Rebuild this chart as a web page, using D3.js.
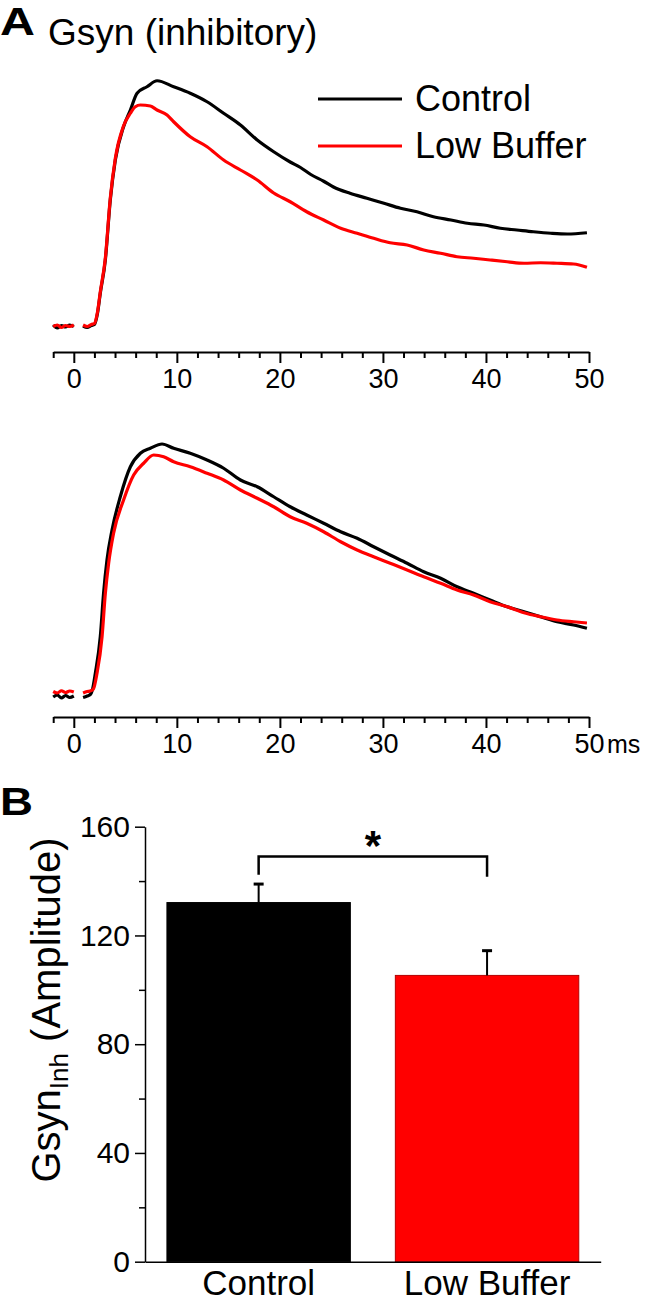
<!DOCTYPE html>
<html><head><meta charset="utf-8">
<script src="https://cdn.jsdelivr.net/npm/d3@7"></script>
<style>
html,body{margin:0;padding:0;background:#fff;}
svg{display:block;}
text{font-family:"Liberation Sans",Arial,Helvetica,sans-serif;fill:#000;}
</style>
</head><body>
<svg id="chart" width="647" height="1302"></svg>
<script>
// ---------------- DATA ----------------
const timeTickValues = [0, 10, 20, 30, 40, 50];
const timeMinorTicks = [-2, 2, 4, 6, 8, 12, 14, 16, 18, 22, 24, 26, 28, 32, 34, 36, 38, 42, 44, 46, 48];
const legendLabels = ["Control", "Low Buffer"];
const seriesColors = ["#000000", "#ff0000"];

// Panel A (top): [time ms, conductance, arbitrary units]; null = blanked artifact
const traceTopControl = [[-2.0,0.8],[-1.6,-0.4],[-1.2,0.6],[-0.8,0.0],[-0.4,0.8],[0.0,0.2],[0.4,null],
  [0.9,0.4],[1.3,-0.2],[1.7,0.6],[2.0,1.0],[2.3,5.5],[2.57,13.5],[3.06,26.8],[3.54,50.8],[4.03,66.8],
  [4.83,80.1],[5.49,86.8],[6.14,93.5],[7.1,96.1],[8.08,98.5],[9.69,96.1],[11.3,93.5],[12.93,90.1],
  [14.54,85.5],[16.17,80.8],[17.8,74.8],[19.4,70.1],[21.0,66.0],[22.0,63.8],[23.0,61.0],[24.25,58.3],
  [25.2,56.0],[26.8,53.5],[28.45,51.5],[30.1,49.5],[31.7,47.5],[33.3,46.1],[34.9,44.1],[36.6,42.8],
  [38.2,41.5],[39.8,40.8],[41.4,39.5],[43.0,38.8],[44.6,38.1],[46.3,37.5],[47.9,37.2],[49.8,37.7]];
const traceTopLowBuffer = [[-2.0,0.2],[-1.6,0.8],[-1.2,-0.2],[-0.8,0.6],[-0.4,0.2],[0.0,0.8],[0.4,null],
  [0.9,0.8],[1.3,0.2],[1.7,1.0],[2.0,1.4],[2.3,6.0],[2.57,14.0],[3.06,27.5],[3.54,51.5],[4.03,67.5],
  [4.83,80.5],[5.49,85.5],[5.97,88.1],[6.46,88.8],[7.43,88.4],[8.08,86.8],[9.05,84.8],[9.69,82.1],
  [11.3,76.1],[12.93,72.1],[14.54,66.8],[16.17,62.8],[17.8,58.8],[19.4,53.6],[21.0,50.1],[22.6,46.1],
  [24.25,42.8],[25.9,39.5],[27.5,37.5],[29.1,35.5],[30.7,33.7],[32.35,32.8],[33.96,30.8],[35.6,29.5],
  [37.2,28.1],[38.8,27.5],[40.4,26.8],[42.06,26.1],[43.7,25.5],[45.3,25.7],[46.9,25.5],[48.5,25.2],[49.8,23.9]];

// Panel A (bottom)
const traceBottomControl = [[-2.0,-1.6],[-1.6,-0.8],[-1.2,-2.0],[-0.8,-1.0],[-0.4,-1.8],[0.0,-1.2],[0.4,null],
  [0.9,-1.8],[1.3,-1.2],[1.6,-0.6],[1.8,1.2],[2.09,7.9],[2.57,22.5],[2.89,39.9],[3.22,53.2],[3.71,65.2],
  [4.51,78.5],[5.49,90.5],[6.46,95.9],[7.43,97.9],[8.56,99.6],[9.69,97.9],[11.3,95.9],[12.93,93.2],
  [14.54,89.9],[16.17,85.2],[17.8,82.5],[19.4,78.5],[21.0,74.5],[22.6,71.2],[24.25,67.9],[25.9,64.5],
  [27.5,61.9],[29.1,58.5],[30.7,55.2],[32.35,51.9],[33.96,48.5],[35.6,45.9],[37.2,42.5],[38.8,39.9],
  [40.4,37.2],[42.06,34.5],[43.7,32.5],[45.3,30.5],[46.9,28.5],[48.5,27.2],[49.8,25.9]];
const traceBottomLowBuffer = [[-2.0,0.6],[-1.6,0.0],[-1.2,0.9],[-0.8,0.2],[-0.4,0.8],[0.0,0.4],[0.4,null],
  [0.9,0.0],[1.3,0.6],[1.6,0.8],[1.9,1.6],[2.25,7.9],[2.74,22.5],[3.06,39.9],[3.38,51.9],[3.86,63.9],
  [4.83,77.2],[5.81,87.2],[6.78,91.9],[7.75,95.2],[8.72,94.5],[9.69,92.5],[11.3,90.5],[12.93,87.9],
  [14.54,85.2],[16.17,81.2],[17.8,77.9],[19.4,74.5],[21.0,70.5],[22.6,67.9],[24.25,64.5],[25.9,60.5],
  [27.5,57.2],[29.1,54.5],[30.7,51.9],[32.35,49.2],[33.96,46.5],[35.6,43.9],[37.2,41.2],[38.8,39.2],
  [40.4,36.5],[42.06,34.5],[43.7,32.1],[45.3,30.5],[46.9,29.2],[48.5,28.5],[49.8,28.0]];

// Panel B
const barCategories = ["Control", "Low Buffer"];
const barMeans = [132.1, 105.3];
const barErrors = [6.8, 9.1];
const barColors = ["#000000", "#ff0000"];
const ampTicks = [0, 40, 80, 120, 160];
const ampMinorTicks = [20, 60, 100, 140];
const bracketTop = 149;
const bracketLegs = [142.3, 141.6];
const sigLabel = "*";

// ---------------- DRAWING ----------------
const svg = d3.select("#chart");
const FONT = '"Liberation Sans",Arial,Helvetica,sans-serif';

// Titles
svg.append("text").attr("x", 0).attr("y", 35).attr("font-size", 38).attr("font-weight", "bold")
  .attr("textLength", 35).attr("lengthAdjust", "spacingAndGlyphs").text("A");
svg.append("text").attr("x", 48).attr("y", 45).attr("font-size", 37).text("Gsyn (inhibitory)");

const x = d3.scaleLinear().domain([-2, 50]).range([53.2, 589]);

function tracePanel(yBase, yTop, axisY, series, showMs) {
  const y = d3.scaleLinear().domain([0, 100]).range([yBase, yTop]);
  const line = d3.line()
    .defined(d => d[1] !== null)
    .x(d => x(d[0])).y(d => y(d[1]))
    .curve(d3.curveMonotoneX);
  series.forEach((s, i) => {
    svg.append("path").datum(s).attr("d", line)
      .attr("fill", "none").attr("stroke", seriesColors[i])
      .attr("stroke-width", 3.2).attr("stroke-linejoin", "round");
  });
  const gMinor = svg.append("g").attr("transform", `translate(0,${axisY})`)
    .call(d3.axisBottom(x).tickValues(timeMinorTicks).tickSize(6).tickSizeOuter(0).tickFormat(""));
  gMinor.select(".domain").remove();
  gMinor.selectAll("line").attr("stroke-width", 2);
  const g = svg.append("g").attr("transform", `translate(0,${axisY})`)
    .call(d3.axisBottom(x).tickValues(timeTickValues).tickSize(11).tickSizeOuter(0).tickPadding(6).tickFormat(d3.format("d")));
  g.select(".domain").attr("stroke-width", 2);
  g.selectAll("line").attr("stroke-width", 2);
  g.selectAll("text").attr("font-size", 27).attr("font-family", FONT).attr("fill", "#000");
  if (showMs) {
    svg.append("text").attr("x", 607).attr("y", axisY + 17 + 0.71 * 27)
      .attr("font-size", 25).text("ms");
  }
}

tracePanel(327, 77, 352, [traceTopControl, traceTopLowBuffer], false);
tracePanel(693, 443, 717, [traceBottomControl, traceBottomLowBuffer], true);

// Legend
legendLabels.forEach((lab, i) => {
  const ly = 99 + i * 47;
  svg.append("line").attr("x1", 318).attr("x2", 402).attr("y1", ly).attr("y2", ly)
    .attr("stroke", seriesColors[i]).attr("stroke-width", 3);
  svg.append("text").attr("x", 415).attr("y", ly + 12).attr("font-size", 36).text(lab);
});

// ---------------- Panel B ----------------
svg.append("text").attr("x", 0).attr("y", 815).attr("font-size", 38).attr("font-weight", "bold")
  .attr("textLength", 33).attr("lengthAdjust", "spacingAndGlyphs").text("B");

const yB = d3.scaleLinear().domain([0, 160]).range([1261.7, 826.7]);
const xB = d3.scaleBand().domain(barCategories).range([145, 600.7]).paddingInner(0.197).paddingOuter(0.096);

svg.selectAll(".bar").data(barCategories).enter().append("rect")
  .attr("x", d => xB(d)).attr("width", xB.bandwidth())
  .attr("y", (d, i) => yB(barMeans[i])).attr("height", (d, i) => yB(0) - yB(barMeans[i]))
  .attr("fill", (d, i) => barColors[i])
  .attr("stroke", (d, i) => i === 1 ? "#b30000" : "#000").attr("stroke-width", 1);

barCategories.forEach((c, i) => {
  const cx = xB(c) + xB.bandwidth() / 2;
  svg.append("line").attr("x1", cx).attr("x2", cx)
    .attr("y1", yB(barMeans[i])).attr("y2", yB(barMeans[i] + barErrors[i]))
    .attr("stroke", "#000").attr("stroke-width", 2);
  svg.append("line").attr("x1", cx - 5).attr("x2", cx + 5)
    .attr("y1", yB(barMeans[i] + barErrors[i])).attr("y2", yB(barMeans[i] + barErrors[i]))
    .attr("stroke", "#000").attr("stroke-width", 3);
});

const c0 = xB(barCategories[0]) + xB.bandwidth() / 2;
const c1 = xB(barCategories[1]) + xB.bandwidth() / 2;
svg.append("path")
  .attr("d", `M${c0},${yB(bracketLegs[0])}V${yB(bracketTop)}H${c1}V${yB(bracketLegs[1])}`)
  .attr("fill", "none").attr("stroke", "#000").attr("stroke-width", 2.5);
svg.append("text").attr("x", (c0 + c1) / 2).attr("y", yB(bracketTop) + 3)
  .attr("text-anchor", "middle").attr("font-size", 42).attr("font-weight", "bold").text(sigLabel);

const gyMinor = svg.append("g").attr("transform", "translate(145,0)")
  .call(d3.axisLeft(yB).tickValues(ampMinorTicks).tickSize(6).tickSizeOuter(0).tickFormat(""));
gyMinor.select(".domain").remove();
gyMinor.selectAll("line").attr("stroke-width", 1.5);
const gy = svg.append("g").attr("transform", "translate(145,0)")
  .call(d3.axisLeft(yB).tickValues(ampTicks).tickSize(10).tickSizeOuter(0).tickPadding(5));
gy.select(".domain").attr("stroke-width", 1.5);
gy.selectAll("line").attr("stroke-width", 1.5);
gy.selectAll("text").attr("font-size", 30).attr("font-family", FONT).attr("fill", "#000");

const gx = svg.append("g").attr("transform", `translate(0,${yB(0)})`)
  .call(d3.axisBottom(xB).tickSize(0).tickSizeOuter(0).tickPadding(8));
gx.select(".domain").attr("stroke-width", 1.5);
gx.selectAll("text").attr("font-size", 35).attr("font-family", FONT).attr("fill", "#000");

const yl = svg.append("text").attr("transform", "translate(60,1010) rotate(-90)")
  .attr("text-anchor", "middle").attr("font-size", 40);
yl.append("tspan").text("Gsyn");
yl.append("tspan").attr("dy", 8).attr("font-size", 26).text("Inh");
yl.append("tspan").attr("dy", -8).text(" (Amplitude)");
</script>
</body></html>
